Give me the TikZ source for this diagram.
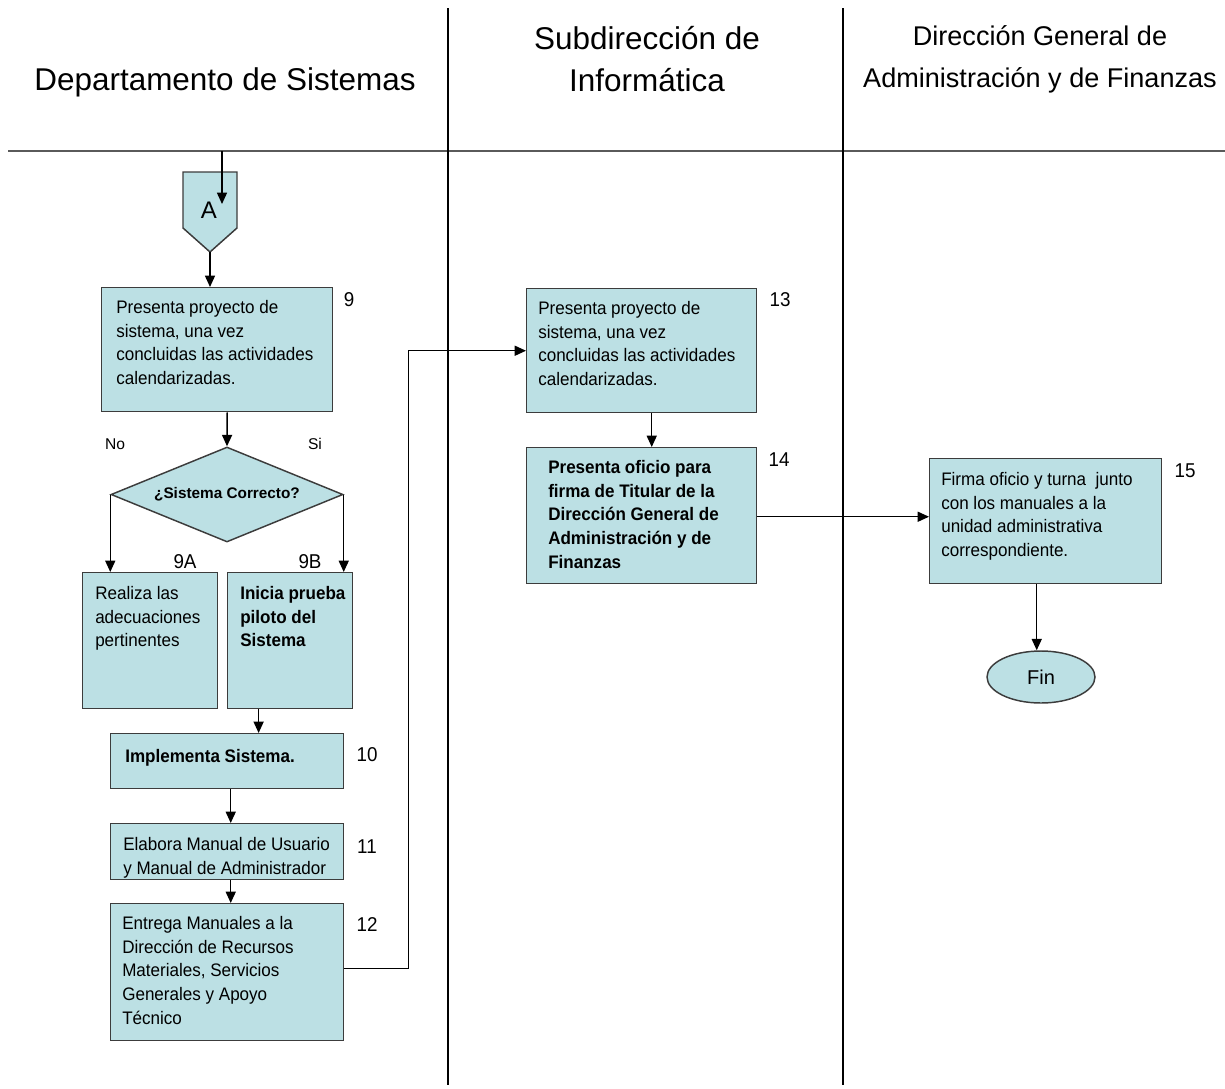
\documentclass[tikz,border=0pt]{standalone}
\usepackage{fontspec}
\setmainfont{Liberation Sans}
\newfontfamily\bodyfont{Liberation Sans}[FakeStretch=0.94]
\usetikzlibrary{shapes.geometric,arrows.meta,calc}
\definecolor{boxfill}{RGB}{188,224,228}
\definecolor{boxline}{RGB}{60,60,60}
\definecolor{rulegray}{RGB}{90,90,90}

\begin{document}
\begin{tikzpicture}[x=0.75pt,y=-0.75pt,
  shapeline/.style={draw=boxline,line width=1.1pt,fill=boxfill},
  stepbox/.style 2 args={shapeline,rectangle,inner sep=0pt,anchor=north west,
    minimum width=#1*0.75pt,minimum height=#2*0.75pt},
  body/.style={anchor=north west,inner sep=0pt,align=left,
    font=\bodyfont\fontsize{13.6}{17.8}\selectfont},
  boldbody/.style={body,font=\bodyfont\bfseries\fontsize{13.6}{17.8}\selectfont},
  num/.style={inner sep=0pt,font=\bodyfont\fontsize{15}{17}\selectfont},
  small/.style={inner sep=0pt,font=\fontsize{11.7}{14}\selectfont},
  lane/.style={inner sep=0pt,align=center,font=\fontsize{23.6}{31.5}\selectfont},
  arr/.style={draw=black,line width=1.1pt,-{Triangle[length=8.5pt,width=7.5pt]}},
  flow/.style={draw=black,line width=1.1pt}]
\useasboundingbox (0,0) rectangle (1225,1089);

% swimlane headers and dividers
\node[lane] (h1) at (225,82) {Departamento de Sistemas};
\node[lane] (h2) at (647,59) {Subdirección de\\Informática};
\node[lane,font=\fontsize{20.3}{31.5}\selectfont] (h3) at (1040,59) {Dirección General de\\Administración y de Finanzas};
\draw[rulegray,line width=1.6pt] (8,151) -- (1225,151);
\draw[black,line width=0.9pt] (448,8) -- (448,1085);
\draw[black,line width=0.9pt] (843,8) -- (843,1085);

% off-page connector A
\draw[shapeline] (183,172) -- (237,172) -- (237,228) -- (210,252) -- (183,228) -- cycle;
\node[inner sep=0pt,font=\fontsize{18}{20}\selectfont] (conA) at (209,210) {A};
\coordinate (conAtip) at (210,252);
\coordinate (entry) at (222,151);
\coordinate (entryend) at (222,204);
\draw[arr] (entry) -- (entryend);

% Departamento de Sistemas
\node[stepbox={231}{124}] (b9) at (101,287) {};
\node[body] (t9) at (116,300) {Presenta proyecto de\\sistema, una vez\\concluidas las actividades\\calendarizadas.};
\node[num] (n9) at (349,300) {9};

\node[diamond,shapeline,inner sep=0pt,aspect=2.44,
  minimum width=232*0.75pt,minimum height=95*0.75pt,
  font=\bfseries\fontsize{11.5}{13}\selectfont] (dia) at (227,494.5) {¿Sistema Correcto?};
\node[small] (no) at (115,444) {No};
\node[small] (si) at (315,444) {Si};

\node[stepbox={135}{136}] (b9a) at (82,572) {};
\node[body] (t9a) at (95,586) {Realiza las\\adecuaciones\\pertinentes};
\node[num] (n9a) at (185,562) {9A};

\node[stepbox={125}{136}] (b9b) at (227,572) {};
\node[boldbody] (t9b) at (240,586) {Inicia prueba\\piloto del\\Sistema};
\node[num] (n9b) at (310,562) {9B};

\node[stepbox={233}{55}] (b10) at (110,733) {};
\node[boldbody] (t10) at (125,749) {Implementa Sistema.};
\node[num] (n10) at (367,755) {10};

\node[stepbox={233}{56}] (b11) at (110,823) {};
\node[body] (t11) at (123,837) {Elabora Manual de Usuario\\y Manual de Administrador};
\node[num] (n11) at (367,847) {11};

\node[stepbox={233}{137}] (b12) at (110,903) {};
\node[body] (t12) at (122,916) {Entrega Manuales a la\\Dirección de Recursos\\Materiales, Servicios\\Generales y Apoyo\\Técnico};
\node[num] (n12) at (367,925) {12};

% Subdirección de Informática
\node[stepbox={230}{124}] (b13) at (526,288) {};
\node[body] (t13) at (538,301) {Presenta proyecto de\\sistema, una vez\\concluidas las actividades\\calendarizadas.};
\node[num] (n13) at (780,300) {13};

\node[stepbox={230}{136}] (b14) at (526,447) {};
\node[boldbody] (t14) at (548,460) {Presenta oficio para\\firma de Titular de la\\Dirección General de\\Administración y de\\Finanzas};
\node[num] (n14) at (779,460) {14};

% Dirección General de Administración y de Finanzas
\node[stepbox={232}{125}] (b15) at (929,458) {};
\node[body] (t15) at (941,472) {Firma oficio y turna~ junto\\con los manuales a la\\unidad administrativa\\correspondiente.};
\node[num] (n15) at (1185,471) {15};

\node[ellipse,shapeline,inner sep=0pt,minimum width=108*0.75pt,minimum height=52*0.75pt,
  font=\fontsize{15}{17}\selectfont] (fin) at (1041,677) {Fin};

% connectors
\draw[arr] (conAtip) -- (conAtip |- b9.north);
\draw[arr] ($(b9.south)+(10,0)$) -- (dia.north);
\draw[arr] (dia.west) -- (dia.west |- b9a.north);
\draw[arr] (dia.east) -- (dia.east |- b9b.north);
\draw[arr] ($(b9b.south west)!0.25!(b9b.south east)$) coordinate (o9b) -- (o9b |- b10.north);
\draw[arr] ($(b10.south)+(3.5,0)$) coordinate (o10) -- (o10 |- b11.north);
\draw[arr] ($(b11.south)+(3.5,0)$) coordinate (o11) -- (o11 |- b12.north);
\draw[arr] ($(b12.east)+(0,-3.5)$) -- ++(64,0) |- (b13.west);
\draw[arr] ($(b13.south)+(10,0)$) coordinate (o13) -- (o13 |- b14.north);
\draw[arr] ($(b14.east)+(0,1)$) coordinate (o14) -- (o14 -| b15.west);
\draw[arr] ($(b15.south)+(-9,0)$) coordinate (o15) -- (o15 |- fin.north);
\end{tikzpicture}
\end{document}
